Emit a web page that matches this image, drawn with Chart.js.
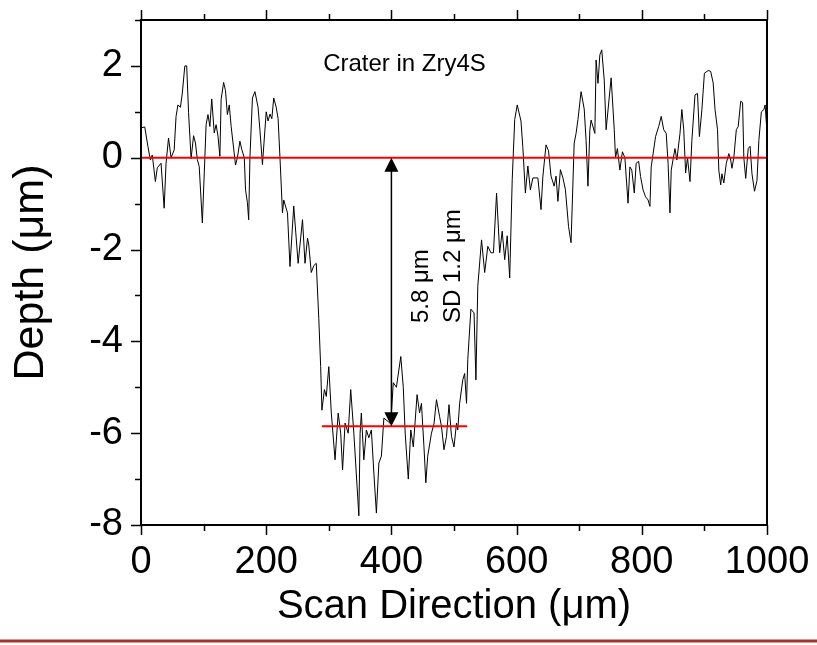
<!DOCTYPE html>
<html>
<head>
<meta charset="utf-8">
<script src="https://cdn.jsdelivr.net/npm/chart.js@4.4.0/dist/chart.umd.min.js"></script>
<style>
  html, body { margin: 0; padding: 0; background: #fff; }
  #wrap { width: 817px; height: 645px; }
</style>
</head>
<body>
<div id="wrap"><canvas id="myChart" width="817" height="645"></canvas></div>
<script>
// profile across the crater
const scanX = [0, 6, 11, 15, 18, 23, 26, 32, 37, 40, 44, 48, 53, 56, 59, 63, 66, 70, 73, 76,
  80, 84, 87, 90, 93, 98, 102, 104, 107, 110, 113, 117, 120, 123, 126, 128, 132, 135, 138, 141,
  144, 151, 154, 158, 161, 165, 167, 170, 172, 174, 178, 182, 187, 190, 194, 200, 203, 206, 209, 212,
  216, 219, 222, 226, 228, 234, 238, 244, 251, 258, 262, 266, 268, 272, 276, 280, 284, 287, 289, 293,
  296, 300, 304, 310, 315, 319, 322, 326, 331, 335, 340, 348, 350, 352, 356, 360, 364, 368, 372, 376,
  380, 384, 388, 395, 399, 403, 408, 415, 419, 422, 427, 431, 435, 441, 445, 448, 452, 455, 458, 464,
  468, 472, 477, 480, 484, 488, 492, 496, 500, 504, 506, 509, 514, 517, 520, 522, 527, 532, 535, 538,
  544, 549, 554, 559, 563, 568, 573, 577, 581, 585, 589, 593, 597, 601, 607, 610, 614, 618, 622, 626,
  634, 639, 642, 647, 651, 655, 660, 663, 666, 670, 674, 678, 683, 687, 692, 695, 698, 703, 708, 711,
  714, 717, 719, 725, 727, 730, 733, 736, 740, 743, 751, 756, 758, 761, 765, 769, 773, 778, 781, 784,
  788, 791, 795, 798, 802, 806, 810, 813, 815, 822, 827, 831, 835, 839, 842, 845, 847, 853, 856, 861,
  864, 867, 870, 873, 877, 880, 885, 889, 892, 896, 900, 906, 910, 914, 917, 921, 923, 926, 928, 931,
  935, 939, 942, 944, 947, 951, 954, 958, 961, 963, 966, 970, 973, 976, 980, 984, 987, 991, 995, 997, 1000];
const depthY = [0.65, 0.67, 0.25, -0.05, 0.06, -0.52, -0.22, -0.12, -1.1, -0.12, 0.43, 0, 0.17, 0.9, 1.15, 1.1, 1.41, 2.0, 2.0, 0.98,
  -0.02, 0.48, 0.32, -0.04, -0.19, -1.42, 0, 0.72, 0.94, 0.68, 1.28, 0.54, 0.72, 0.47, 0.03, 1.27, 1.64, 1.46, 0.94, 1.15,
  0.68, -0.16, 0, 0.36, 0.18, 0, -0.7, -0.98, -1.35, 0, 1.3, 1.44, 1.1, 0.6, -0.15, 1.0, 0.8, 0.95, 0.85, 1.3,
  1.1, 0.85, 0, -1.2, -0.92, -1.2, -2.37, -1.05, -2.3, -1.35, -2.3, -1.75, -1.9, -2.5, -2.35, -2.3, -3.5, -4.55, -5.5, -5.05,
  -5.2, -4.55, -5.56, -6.58, -5.56, -6.0, -6.8, -5.78, -6.0, -5.05, -6.0, -7.8, -6.0, -5.56, -6.58, -5.93, -6.1, -5.93, -6.87, -7.74,
  -6.65, -6.5, -5.67, -5.75, -5.8, -4.9, -5.0, -4.33, -5.0, -6.0, -7.0, -5.93, -6.3, -5.16, -5.56, -5.35, -6.29, -7.08, -6.5, -6.0,
  -5.8, -5.27, -5.64, -5.85, -6.36, -6.07, -5.38, -6.07, -6.3, -5.78, -5.93, -5.35, -4.84, -4.7, -5.35, -4.4, -3.3, -3.38, -4.84, -2.8,
  -1.79, -2.5, -1.93, -2.07, -2.07, -0.77, -2.07, -1.6, -2.22, -1.7, -2.62, -0.48, 0.83, 1.15, 0.8, 0.22, -0.77, -0.18, -0.7, -0.44,
  -0.44, -1.13, -0.4, 0.28, 0.15, -0.4, -0.62, -0.4, -0.95, -0.26, -0.44, -0.7, -1.5, -1.85, 0.32, 0.53, 0.83, 1.44, 1.06, 0.38,
  -0.62, 0.6, 0.82, 0.53, 2.13, 1.62, 2.24, 2.35, 1.69, 0.61, 1.74, 0.61, 0, 0.2, -0.27, 0.13, 0, -0.99, -0.2, -0.27,
  -0.77, -0.12, -0.08, -0.41, -0.7, -0.85, -0.92, -1.06, -0.2, 0.46, 0.68, 0.9, 0.61, 0.53, -0.12, -1.2, -0.27, 0.2, -0.05, 0.53,
  1.05, 0.61, -0.33, 0, -0.52, 0.38, 1.37, 1.4, 0.46, 1.05, 1.84, 1.9, 1.88, 1.63, 1.05, 0.61, -0.27, -0.59, -0.35, -0.55,
  -0.12, 0.09, -0.05, -0.23, 0, 0.61, 0.68, 1.23, 1.2, 0, -0.45, 0.2, 0.25, -0.35, -0.73, -0.5, 0.38, 1.0, 1.05, 1.15, 0.55];

// reference lines
const surfaceX = [0, 1000];
const surfaceY = [0, 0];
const floorX = [289, 521];
const floorY = [-5.85, -5.85];

// depth arrow
const arrowX = 400;
const arrowTop = 0;
const arrowBottom = -5.85;

const xTicks = [0, 200, 400, 600, 800, 1000];
const xMinor = [100, 300, 500, 700, 900];
const yTicks = [-8, -6, -4, -2, 0, 2];
const yMinor = [-7, -5, -3, -1, 1, 3];

const toPts = (xs, ys) => xs.map((x, i) => ({ x: x, y: ys[i] }));

const FONT = "'Liberation Sans', Arial, Helvetica, sans-serif";

const framePlugin = {
  id: 'frame',
  afterDatasetsDraw(chart) {
    const { ctx, chartArea: a, scales: { x, y } } = chart;
    ctx.save();
    ctx.strokeStyle = '#000';
    ctx.lineWidth = 2;
    ctx.strokeRect(a.left, a.top, a.right - a.left, a.bottom - a.top);

    ctx.lineWidth = 1.5;
    ctx.beginPath();
    xTicks.forEach(v => {
      const px = Math.round(x.getPixelForValue(v)) + 0.5;
      ctx.moveTo(px, a.bottom); ctx.lineTo(px, a.bottom + 10);
      ctx.moveTo(px, a.top); ctx.lineTo(px, a.top - 10);
    });
    xMinor.forEach(v => {
      const px = Math.round(x.getPixelForValue(v)) + 0.5;
      ctx.moveTo(px, a.bottom); ctx.lineTo(px, a.bottom + 6);
      ctx.moveTo(px, a.top); ctx.lineTo(px, a.top - 6);
    });
    yTicks.forEach(v => {
      const py = Math.round(y.getPixelForValue(v)) + 0.5;
      ctx.moveTo(a.left, py); ctx.lineTo(a.left - 10, py);
    });
    yMinor.forEach(v => {
      const py = Math.round(y.getPixelForValue(v)) + 0.5;
      ctx.moveTo(a.left, py); ctx.lineTo(a.left - 6, py);
    });
    ctx.stroke();

    // arrow between surface and crater floor
    const ax = x.getPixelForValue(arrowX);
    const ay1 = y.getPixelForValue(arrowTop);
    const ay2 = y.getPixelForValue(arrowBottom);
    ctx.lineWidth = 1.5;
    ctx.beginPath();
    ctx.moveTo(ax, ay1 + 10); ctx.lineTo(ax, ay2 - 10);
    ctx.stroke();
    ctx.fillStyle = '#000';
    ctx.beginPath();
    ctx.moveTo(ax, ay1); ctx.lineTo(ax - 7, ay1 + 14); ctx.lineTo(ax + 7, ay1 + 14); ctx.closePath();
    ctx.moveTo(ax, ay2); ctx.lineTo(ax - 7, ay2 - 14); ctx.lineTo(ax + 7, ay2 - 14); ctx.closePath();
    ctx.fill();

    // labels
    ctx.fillStyle = '#000';
    ctx.font = '24px ' + FONT;
    ctx.textAlign = 'left';
    ctx.textBaseline = 'alphabetic';
    ctx.fillText('Crater in Zry4S', x.getPixelForValue(291), y.getPixelForValue(1.9));

    const by = y.getPixelForValue(-3.6);
    ctx.save();
    ctx.translate(x.getPixelForValue(458), by);
    ctx.rotate(-Math.PI / 2);
    ctx.fillText('5.8 \u03bcm', 0, 0);
    ctx.restore();
    ctx.save();
    ctx.translate(x.getPixelForValue(510), by);
    ctx.rotate(-Math.PI / 2);
    ctx.fillText('SD 1.2 \u03bcm', 0, 0);
    ctx.restore();

    // slide rule under the figure
    ctx.strokeStyle = '#a8322d';
    ctx.lineWidth = 3;
    ctx.beginPath();
    ctx.moveTo(0, chart.height - 4); ctx.lineTo(chart.width, chart.height - 4);
    ctx.stroke();
    ctx.restore();
  }
};

new Chart(document.getElementById('myChart'), {
  type: 'scatter',
  data: {
    datasets: [
      {
        data: toPts(surfaceX, surfaceY),
        showLine: true, borderColor: '#ff0000', borderWidth: 2,
        pointRadius: 0, order: 0
      },
      {
        data: toPts(floorX, floorY),
        showLine: true, borderColor: '#ff0000', borderWidth: 2,
        pointRadius: 0, order: 0
      },
      {
        data: toPts(scanX, depthY),
        showLine: true, borderColor: '#000', borderWidth: 1,
        pointRadius: 0, order: 1
      }
    ]
  },
  options: {
    responsive: false,
    animation: false,
    events: [],
    layout: { padding: { left: 0, right: 50, top: 20, bottom: 0 } },
    plugins: { legend: { display: false }, tooltip: { enabled: false } },
    scales: {
      x: {
        type: 'linear', min: 0, max: 1000,
        afterBuildTicks: s => { s.ticks = xTicks.map(v => ({ value: v })); },
        afterFit: s => { s.height = 120; s.paddingLeft = 0; s.paddingRight = 0; },
        grid: { display: false, drawTicks: false },
        border: { display: false },
        ticks: {
          color: '#000', padding: 15, maxRotation: 0,
          font: { family: FONT, size: 38 },
          callback: v => String(v)
        },
        title: {
          display: true, text: 'Scan Direction (\u03bcm)', color: '#000',
          font: { family: FONT, size: 40 }, padding: { top: 0, bottom: 14 }
        }
      },
      y: {
        type: 'linear', min: -8, max: 3,
        afterBuildTicks: s => { s.ticks = yTicks.map(v => ({ value: v })); },
        afterFit: s => { s.width = 141; s.paddingTop = 0; s.paddingBottom = 0; },
        grid: { display: false, drawTicks: false },
        border: { display: false },
        ticks: { color: '#000', padding: 18, font: { family: FONT, size: 38 } },
        title: {
          display: true, text: 'Depth (\u03bcm)', color: '#000',
          font: { family: FONT, size: 43 }, padding: { top: 5, bottom: 0 }
        }
      }
    }
  },
  plugins: [framePlugin]
});
</script>
</body>
</html>
